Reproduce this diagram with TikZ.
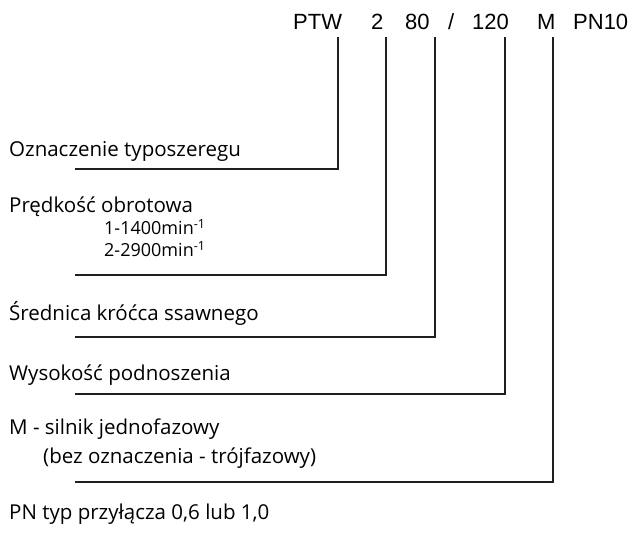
\documentclass[tikz,border=0pt]{standalone}
\usepackage{fontspec}
\setmainfont{Open Sans}
\newfontfamily\codefont{Liberation Sans}
\begin{document}
\begin{tikzpicture}[x=1pt,y=-1pt,
  code/.style={anchor=base west,inner sep=0pt,font=\codefont\fontsize{22}{26}\selectfont},
  lbl/.style={anchor=base west,inner sep=0pt,font=\fontsize{20.5}{24}\selectfont},
  sublbl/.style={anchor=base west,inner sep=0pt,font=\fontsize{18}{22}\selectfont},
  conn/.style={line width=2pt,line cap=rect,color=black!88}]
\useasboundingbox (0,0) rectangle (632,537);
% code line
\node[code] (ptw) at (293,30) {PTW};
\node[code] (two) at (371,30) {2};
\node[code] (eighty) at (405,30) {80};
\node[code] (slash) at (448,30) {/};
\node[code] (oneh) at (472,30) {120};
\node[code] (m) at (537,30) {M};
\node[code] (pn) at (573,30) {PN10};
% labels
\node[lbl] (l1) at (9,157) {Oznaczenie typoszeregu};
\node[lbl] (l2) at (9,213) {Prędkość obrotowa};
\node[sublbl] (l2a) at (104,235) {1-1400min\textsuperscript{-1}};
\node[sublbl] (l2b) at (104,257) {2-2900min\textsuperscript{-1}};
\node[lbl] (l3) at (9,321) {Średnica króćca ssawnego};
\node[lbl] (l4) at (9,381) {Wysokość podnoszenia};
\node[lbl] (l5) at (9,434) {M - silnik jednofazowy};
\node[lbl] (l5a) at (43,463) {(bez oznaczenia - trójfazowy)};
\node[lbl] (l6) at (9,519) {PN typ przyłącza 0,6 lub 1,0};
% connector coordinates
\coordinate (t1) at (338,38); \coordinate (e1) at (76,169);
\coordinate (t2) at (386,38); \coordinate (e2) at (76,275);
\coordinate (t3) at (435,38); \coordinate (e3) at (76,337);
\coordinate (t4) at (505,38); \coordinate (e4) at (76,394);
\coordinate (t5) at (553,38); \coordinate (e5) at (76,482);
\draw[conn] (t1) |- (e1);
\draw[conn] (t2) |- (e2);
\draw[conn] (t3) |- (e3);
\draw[conn] (t4) |- (e4);
\draw[conn] (t5) |- (e5);
\end{tikzpicture}
\end{document}
